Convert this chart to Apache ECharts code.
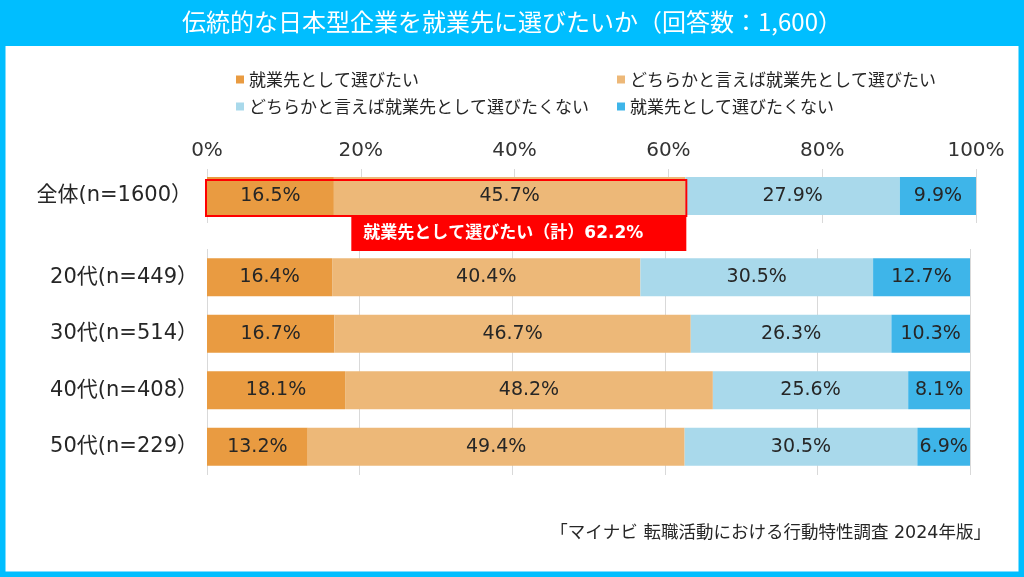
<!DOCTYPE html>
<html>
<head>
<meta charset="utf-8">
<title>伝統的な日本型企業を就業先に選びたいか</title>
<script src="https://cdn.jsdelivr.net/npm/echarts@6/dist/echarts.min.js"></script>
<style>
  html, body { margin: 0; padding: 0; background: #fff; }
  #chart { width: 1024px; height: 577px; }
</style>
</head>
<body>
<div id="chart"></div>
<script>
// 回答区分
const seriesNames = [
  '就業先として選びたい',
  'どちらかと言えば就業先として選びたい',
  'どちらかと言えば就業先として選びたくない',
  '就業先として選びたくない'
]
// 先頭が全体、残りが年代別
const categories = ['全体(n=1600）', '20代(n=449）', '30代(n=514）', '40代(n=408）', '50代(n=229）']
const wantYes = [16.5, 16.4, 16.7, 18.1, 13.2]
const ratherYes = [45.7, 40.4, 46.7, 48.2, 49.4]
const ratherNo = [27.9, 30.5, 26.3, 25.6, 30.5]
const wantNo = [9.9, 12.7, 10.3, 8.1, 6.9]
const tickLabels = ['0%', '20%', '40%', '60%', '80%', '100%']
const sourceText = '「マイナビ 転職活動における行動特性調査 2024年版」'

const colors = ['#E99B41', '#EDB878', '#A9D9EB', '#3EB5E9']
const frameColor = '#00BEFF'
const numFont = "'DejaVu Sans', 'Noto Sans CJK JP', sans-serif"
const jpFont = "'Noto Sans CJK JP', sans-serif"

const values = [wantYes, ratherYes, ratherNo, wantNo]
// 選びたい（計）
const totalYes = Math.round((wantYes[0] + ratherYes[0]) * 10) / 10

const chart = echarts.init(document.getElementById('chart'))

function barSeries(gridIdx, from, to) {
  return values.map((arr, i) => ({
    name: seriesNames[i],
    type: 'bar',
    stack: 'g' + gridIdx,
    xAxisIndex: gridIdx,
    yAxisIndex: gridIdx,
    barWidth: 38,
    data: arr.slice(from, to),
    itemStyle: { color: colors[i] },
    label: {
      show: true,
      position: 'inside',
      formatter: p => p.value.toFixed(1) + '%',
      color: '#262626',
      fontSize: 19,
      fontFamily: numFont
    },
    emphasis: { disabled: true }
  }))
}

const xAxisBase = {
  type: 'value',
  min: 0,
  max: 100,
  interval: 20,
  axisLine: { show: false },
  axisTick: { show: false },
  splitLine: { lineStyle: { color: '#D9D9D9', width: 1 } }
}

const option = {
  animation: false,
  title: {
    text: '伝統的な日本型企業を就業先に選びたいか（回答数：1,600）',
    left: 'center',
    top: 10,
    padding: 0,
    textStyle: { color: '#fff', fontSize: 24, fontWeight: 'normal', fontFamily: jpFont }
  },
  graphic: [
    {
      type: 'rect',
      z: -1,
      shape: { x: 0, y: 0, width: 1024, height: 46 },
      style: { fill: frameColor }
    },
    {
      type: 'rect',
      z: -1,
      shape: { x: 0, y: 0, width: 1024, height: 577 },
      style: { fill: null, stroke: frameColor, lineWidth: 11 }
    },
    {
      type: 'text',
      right: 33,
      top: 525,
      style: { text: sourceText, fill: '#262626', font: '17.5px ' + numFont }
    }
  ],
  legend: [
    {
      orient: 'vertical',
      left: 231,
      top: 66,
      itemWidth: 8,
      itemHeight: 8,
      itemGap: 10,
      icon: 'rect',
      data: [seriesNames[0], seriesNames[2]],
      textStyle: { fontSize: 17, color: '#262626', fontFamily: jpFont }
    },
    {
      orient: 'vertical',
      left: 612,
      top: 66,
      itemWidth: 8,
      itemHeight: 8,
      itemGap: 10,
      icon: 'rect',
      data: [seriesNames[1], seriesNames[3]],
      textStyle: { fontSize: 17, color: '#262626', fontFamily: jpFont }
    }
  ],
  grid: [
    { left: 207, right: 48, top: 169, height: 54 },
    { left: 207, right: 54, top: 249, height: 226 }
  ],
  xAxis: [
    Object.assign({}, xAxisBase, {
      gridIndex: 0,
      position: 'top',
      axisLabel: {
        margin: 8,
        fontSize: 20,
        color: '#333',
        fontFamily: numFont,
        formatter: v => tickLabels[v / 20]
      }
    }),
    Object.assign({}, xAxisBase, {
      gridIndex: 1,
      axisLabel: { show: false }
    })
  ],
  yAxis: [
    {
      type: 'category',
      gridIndex: 0,
      inverse: true,
      data: categories.slice(0, 1),
      axisLine: { show: false },
      axisTick: { show: false },
      axisLabel: { margin: 15, fontSize: 21, color: '#262626', fontFamily: numFont }
    },
    {
      type: 'category',
      gridIndex: 1,
      inverse: true,
      data: categories.slice(1),
      axisLine: { show: false },
      axisTick: { show: false },
      axisLabel: { margin: 9, fontSize: 21, color: '#262626', fontFamily: numFont }
    }
  ],
  series: [
    ...barSeries(0, 0, 1),
    ...barSeries(1, 1),
    {
      // 全体の「選びたい（計）」枠と吹き出し
      type: 'custom',
      xAxisIndex: 0,
      yAxisIndex: 0,
      z: 5,
      silent: true,
      data: [[totalYes, 0]],
      renderItem(params, api) {
        const start = api.coord([0, api.value(1)])
        const end = api.coord([api.value(0), api.value(1)])
        const boxW = 335
        return {
          type: 'group',
          children: [
            {
              type: 'rect',
              shape: { x: start[0] - 1, y: start[1] - 16, width: end[0] - start[0] + 2, height: 36 },
              style: { fill: null, stroke: '#FF0000', lineWidth: 2 }
            },
            {
              type: 'rect',
              shape: { x: end[0] + 1 - boxW, y: start[1] + 21, width: boxW, height: 34 },
              style: { fill: '#FF0000' }
            },
            {
              type: 'text',
              x: end[0] + 13 - boxW,
              y: start[1] + 38,
              style: {
                text: '就業先として選びたい（計）' + api.value(0).toFixed(1) + '%',
                fill: '#fff',
                font: 'bold 17px ' + numFont,
                verticalAlign: 'middle'
              }
            }
          ]
        }
      }
    }
  ]
}

chart.setOption(option)
</script>
</body>
</html>
